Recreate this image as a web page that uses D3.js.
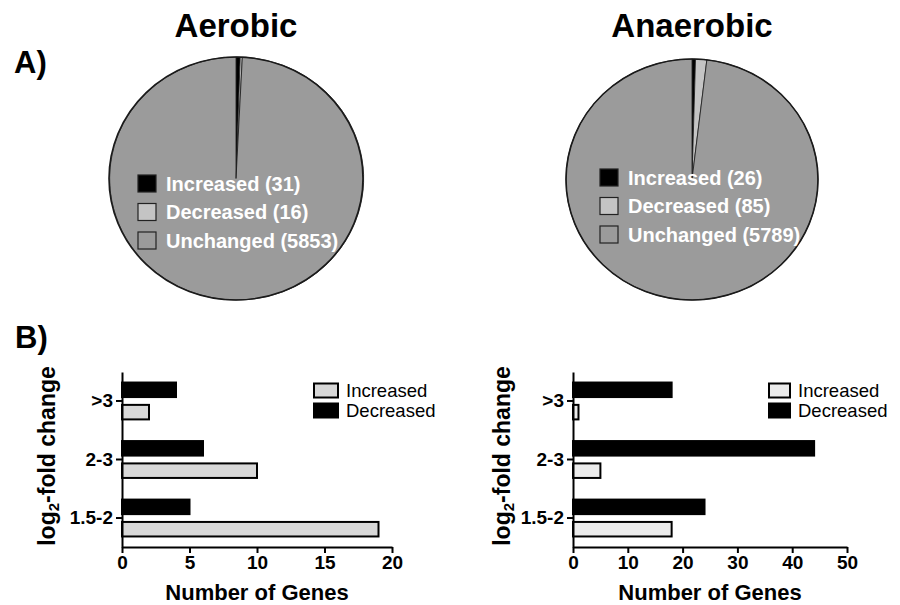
<!DOCTYPE html>
<html>
<head>
    <meta charset="utf-8">
    <title>Aerobic / Anaerobic genes</title>
    <script src="https://cdn.jsdelivr.net/npm/d3@7"></script>
    <style>
        body { margin: 0; background: #fff; }
        text { font-family: "Liberation Sans", Arial, sans-serif; }
    </style>
</head>
<body>
<script>
    // ---- data ----
    let pieLabels = ["Increased", "Decreased", "Unchanged"];
    let aerobicCounts = [31, 16, 5853];
    let anaerobicCounts = [26, 85, 5789];

    let foldCategories = [">3", "2-3", "1.5-2"];
    let aerobicIncreased = [2, 10, 19];
    let aerobicDecreased = [4, 6, 5];
    let anaerobicIncreased = [1, 5, 18];
    let anaerobicDecreased = [18, 44, 24];

    let aerobicTicks = [0, 5, 10, 15, 20];
    let anaerobicTicks = [0, 10, 20, 30, 40, 50];

    let pieColors = ["#000000", "#c4c4c4", "#9b9b9b"];

    let svg = d3.select("body").append("svg")
        .attr("width", 900)
        .attr("height", 605);

    // panel letters
    svg.append("text").attr("x", 14).attr("y", 73)
        .style("font-size", "31px").style("font-weight", "bold").text("A)");
    svg.append("text").attr("x", 15).attr("y", 348)
        .style("font-size", "31px").style("font-weight", "bold").text("B)");

    // ---- pies ----
    let drawPie = function (title, counts, cx, cy, rx, ry, legendX, legendY) {
        let g = svg.append("g");

        g.append("text")
            .attr("x", cx).attr("y", 37)
            .attr("text-anchor", "middle")
            .style("font-size", "33px").style("font-weight", "bold")
            .text(title);

        let pie = d3.pie().sort(null).value(function (d) { return d; });
        let arc = d3.arc().innerRadius(0).outerRadius(1);

        let pg = g.append("g")
            .attr("transform", "translate(" + cx + "," + cy + ") scale(" + rx + "," + ry + ")");

        pg.selectAll("path")
            .data(pie(counts))
            .enter().append("path")
            .attr("d", arc)
            .attr("fill", function (d, i) { return pieColors[i]; })
            .attr("stroke", "#1a1a1a")
            .attr("stroke-width", 0.8)
            .attr("vector-effect", "non-scaling-stroke");

        pg.append("ellipse")
            .attr("rx", 1).attr("ry", 1)
            .attr("fill", "none")
            .attr("stroke", "#1a1a1a")
            .attr("stroke-width", 1.6)
            .attr("vector-effect", "non-scaling-stroke");

        let leg = g.selectAll("g.pieleg")
            .data(pieLabels)
            .enter().append("g")
            .attr("class", "pieleg")
            .attr("transform", function (d, i) {
                return "translate(" + legendX + "," + (legendY + i * 28.5) + ")";
            });

        leg.append("rect")
            .attr("x", 0).attr("y", -8.5)
            .attr("width", 18).attr("height", 17)
            .attr("fill", function (d, i) { return pieColors[i]; })
            .attr("stroke", "#222")
            .attr("stroke-width", 1.2);

        leg.append("text")
            .attr("x", 28).attr("y", 7)
            .attr("fill", "#fff")
            .style("font-size", "20px").style("font-weight", "bold")
            .text(function (d, i) { return d + " (" + counts[i] + ")"; });
    };

    drawPie("Aerobic", aerobicCounts, 236, 178.5, 127, 121.5, 138, 183.5);
    drawPie("Anaerobic", anaerobicCounts, 692, 179.5, 126, 120.5, 600, 177.5);

    // ---- bar charts ----
    let drawBars = function (opts) {
        let g = svg.append("g");

        let x = d3.scaleLinear().domain([0, opts.max]).range([opts.x0, opts.x1]);
        let y = d3.scaleBand().domain(foldCategories)
            .range([372, 547]).paddingInner(0.37).paddingOuter(0.18);
        let yInner = d3.scaleBand().domain(["Decreased", "Increased"])
            .range([0, y.bandwidth()]).paddingInner(0.35);

        let rows = foldCategories.map(function (c, i) {
            return { cat: c, Increased: opts.inc[i], Decreased: opts.dec[i] };
        });

        let grp = g.selectAll("g.grp")
            .data(rows)
            .enter().append("g")
            .attr("class", "grp")
            .attr("transform", function (d) { return "translate(0," + y(d.cat) + ")"; });

        grp.selectAll("rect")
            .data(function (d) {
                return ["Decreased", "Increased"].map(function (k) { return { key: k, value: d[k] }; });
            })
            .enter().append("rect")
            .attr("x", x(0))
            .attr("y", function (d) { return yInner(d.key); })
            .attr("width", function (d) { return x(d.value) - x(0); })
            .attr("height", yInner.bandwidth())
            .attr("fill", function (d) { return d.key === "Decreased" ? "#000" : opts.incColor; })
            .attr("stroke", "#000")
            .attr("stroke-width", 2);

        // axes
        let xAxis = d3.axisBottom(x).tickValues(opts.ticks).tickSize(6).tickSizeOuter(0).tickPadding(3);
        let gx = g.append("g")
            .attr("transform", "translate(0,547)")
            .call(xAxis);

        let yAxis = d3.axisLeft(y).tickSize(6).tickSizeOuter(0).tickPadding(3);
        let gy = g.append("g")
            .attr("transform", "translate(" + opts.x0 + ",0)")
            .call(yAxis);

        [gx, gy].forEach(function (ax) {
            ax.select(".domain").attr("stroke", "#000").attr("stroke-width", 2);
            ax.selectAll(".tick line").attr("stroke", "#000").attr("stroke-width", 2);
            ax.selectAll(".tick text")
                .attr("fill", "#000")
                .style("font-family", "'Liberation Sans', Arial, sans-serif")
                .style("font-size", "19px").style("font-weight", "bold");
        });

        // axis titles
        g.append("text")
            .attr("x", (opts.x0 + opts.x1) / 2)
            .attr("y", 600)
            .attr("text-anchor", "middle")
            .style("font-size", "22px").style("font-weight", "bold")
            .text("Number of Genes");

        let yt = g.append("text")
            .attr("transform", "translate(" + opts.yTitleX + ",456) rotate(-90)")
            .attr("text-anchor", "middle")
            .style("font-size", "23px").style("font-weight", "bold");
        yt.append("tspan").text("log");
        yt.append("tspan").attr("baseline-shift", "-25%").style("font-size", "15px").text("2");
        yt.append("tspan").text("-fold change");

        // legend
        let leg = g.selectAll("g.barleg")
            .data(["Increased", "Decreased"])
            .enter().append("g")
            .attr("class", "barleg")
            .attr("transform", function (d, i) {
                return "translate(" + opts.legX + "," + (390.5 + i * 20) + ")";
            });

        leg.append("rect")
            .attr("x", 0).attr("y", -7)
            .attr("width", opts.legW).attr("height", 14)
            .attr("fill", function (d) { return d === "Decreased" ? "#000" : opts.incColor; })
            .attr("stroke", "#000")
            .attr("stroke-width", 2);

        leg.append("text")
            .attr("x", opts.legW + 8).attr("y", 6.5)
            .style("font-size", "18.5px")
            .text(function (d) { return d; });
    };

    drawBars({
        x0: 122, x1: 392, max: 20, ticks: aerobicTicks,
        inc: aerobicIncreased, dec: aerobicDecreased,
        incColor: "#d8d8d8", legX: 314, legW: 24, yTitleX: 55
    });
    drawBars({
        x0: 573, x1: 847, max: 50, ticks: anaerobicTicks,
        inc: anaerobicIncreased, dec: anaerobicDecreased,
        incColor: "#ebebeb", legX: 769, legW: 21, yTitleX: 510
    });
</script>
</body>
</html>
